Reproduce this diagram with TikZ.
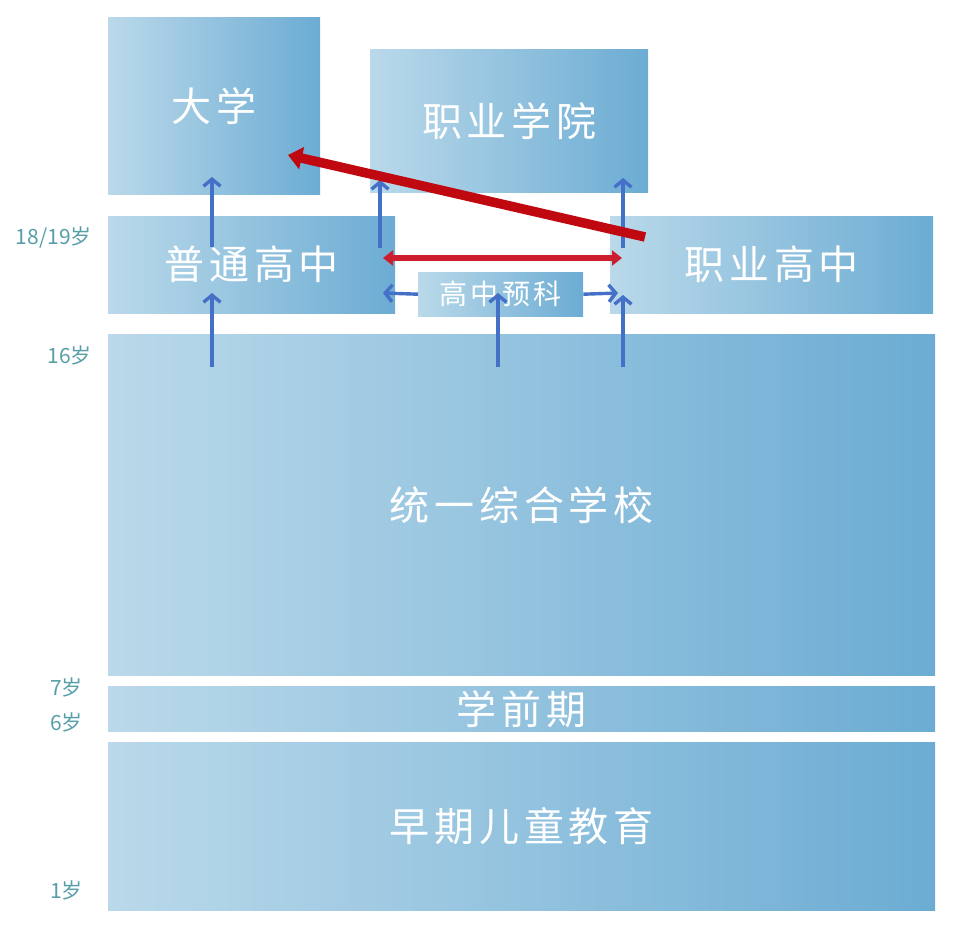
\documentclass[tikz,border=0pt]{standalone}
\usepackage{fontspec}
\setmainfont{Noto Sans CJK SC}
\newfontfamily\cjkspaced[LetterSpace=12]{Noto Sans CJK SC}
\usetikzlibrary{arrows.meta}
\definecolor{boxl}{RGB}{186,217,234}
\definecolor{boxr}{RGB}{108,172,211}
\definecolor{agecol}{RGB}{88,158,168}
\definecolor{arrowblue}{RGB}{68,112,200}
\definecolor{reddark}{RGB}{192,8,16}
\definecolor{redmid}{RGB}{205,30,45}
\begin{document}
\begin{tikzpicture}[x=1pt,y=-1pt,
  box/.style={left color=boxl, right color=boxr, draw=none, text=white, inner sep=0pt,
    anchor=north west, font=\cjkspaced\fontsize{40}{40}\selectfont},
  agelbl/.style={text=agecol, anchor=east, inner sep=0pt, font=\fontsize{21}{21}\selectfont},
  barrow/.style={draw=arrowblue, line width=3.4pt, -{Straight Barb[length=7pt,width=17pt]}},
  rdarrow/.style={draw=redmid, line width=6.5pt, {Triangle[length=10pt,width=15pt]}-{Triangle[length=10pt,width=15pt]}},
  rarrow/.style={draw=reddark, line width=9.5pt, -{Triangle[length=14pt,width=22pt]}}
]
\useasboundingbox (0,0) rectangle (960,934);

\node[box, minimum width=212pt, minimum height=177pt] (daxue) at (108,17) {大学};
\node[box, minimum width=278pt, minimum height=143pt] (zhiyexy) at (370,49) {职业学院};
\node[box, minimum width=287pt, minimum height=97pt] (putong) at (108,216) {普通高中};
\node[box, minimum width=323pt, minimum height=97pt] (zhiyegz) at (610,216) {职业高中};
\node[box, minimum width=165pt, minimum height=44pt, font=\cjkspaced\fontsize{28}{28}\selectfont] (yuke) at (418,272) {高中预科};
\node[box, minimum width=827pt, minimum height=341pt] (tongyi) at (108,334) {统一综合学校};
\node[box, minimum width=827pt, minimum height=45pt] (xueqian) at (108,686) {\raisebox{-3pt}{学前期}};
\node[box, minimum width=827pt, minimum height=168pt] (zaoqi) at (108,742) {早期儿童教育};

\node[agelbl] (a1819) at (92,238) {18/19岁};
\node[agelbl] (a16) at (92,355) {16岁};
\node[agelbl] (a7) at (83,687) {7岁};
\node[agelbl] (a6) at (83,722) {6岁};
\node[agelbl] (a1) at (83,890) {1岁};

\coordinate (s1) at (212,367);
\coordinate (t1) at (212,293);
\coordinate (s2) at (212,247);
\coordinate (t2) at (212,177);
\coordinate (s3) at (380,248);
\coordinate (t3) at (380,180);
\coordinate (s4) at (623,248);
\coordinate (t4) at (623,178);
\coordinate (s5) at (498,367);
\coordinate (t5) at (498,293);
\coordinate (s6) at (623,367);
\coordinate (t6) at (623,295);
\coordinate (t7) at (383,293);
\coordinate (t8) at (618,293);
\coordinate (r1) at (383,258);
\coordinate (r2) at (622,258);
\coordinate (r3) at (645,237);
\coordinate (r4) at (288,155);

\draw[barrow] (s1) -- (t1);
\draw[barrow] (s2) -- (t2);
\draw[barrow] (s3) -- (t3);
\draw[barrow] (s4) -- (t4);
\draw[barrow] (s5) -- (t5);
\draw[barrow] (s6) -- (t6);
\draw[barrow] (yuke.west) -- (t7);
\draw[barrow] (yuke.east) -- (t8);
\draw[rdarrow] (r1) -- (r2);
\draw[rarrow] (r3) -- (r4);
\end{tikzpicture}
\end{document}
